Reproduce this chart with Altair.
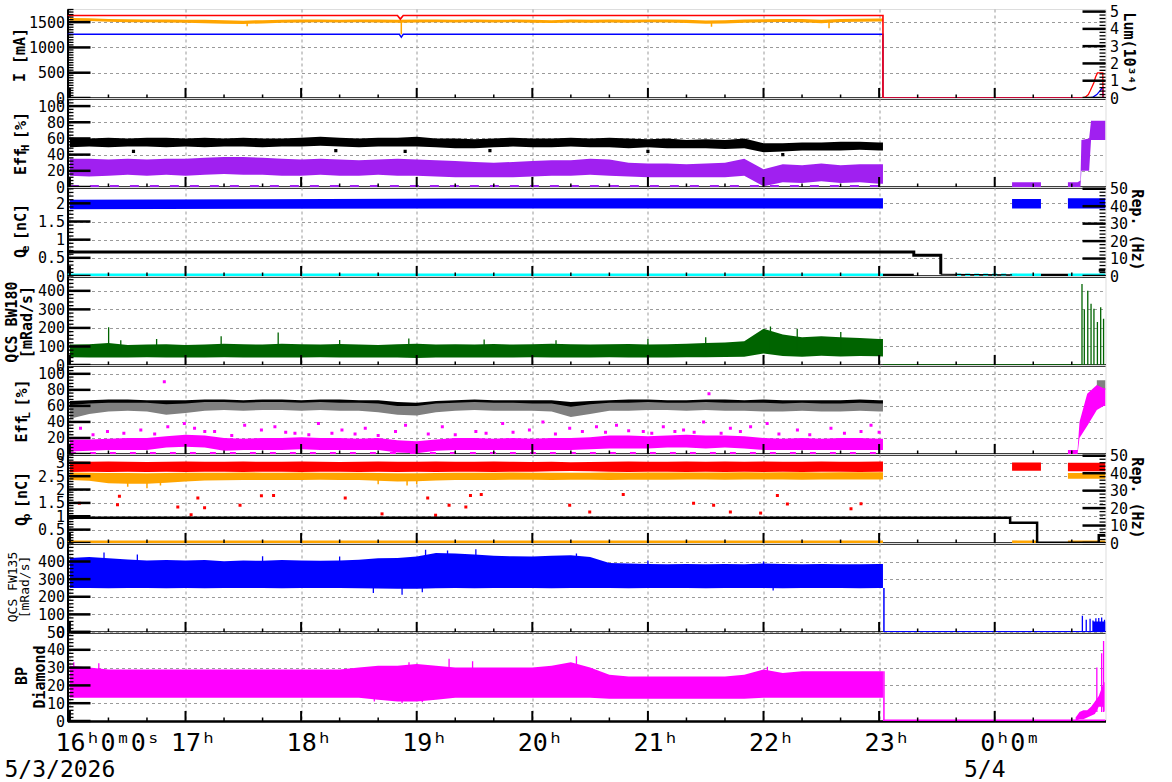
import json
import altair as alt
import pandas as pd

# ---------------- layout constants ----------------
W, H = 1038, 89
X_DOMAIN = [-1.25, 537.5]          # minutes after 16:00 on 5/3/2026
MONO = "DejaVu Sans Mono"
GRID = "#9a9a9a"
RED, ORANGE, BLUE, PURPLE = "#ff0000", "#ffa500", "#0000ff", "#a020f0"
BLACK, CYAN, GREEN, GRAY, MAGENTA = "#000000", "#00ffff", "#006400", "#808080", "#ff00ff"

# ---------------- x ticks / labels ----------------
HOURS = [0, 60, 120, 180, 240, 300, 360, 420, 480]
HOUR_LABELS = ["16ʰ0ᵐ0ˢ", "17ʰ", "18ʰ", "19ʰ", "20ʰ", "21ʰ", "22ʰ", "23ʰ", "0ʰ0ᵐ"]
MIN20 = [20, 40, 80, 100, 140, 160, 200, 220, 260, 280, 320, 340, 380, 400, 440, 460, 500, 520]
DATE_T = [0, 480]
DATE_LABELS = ["5/3/2026", "5/4"]

# ---------------- common time grid (minutes after 16:00) ----------------
T10 = [0, 10, 20, 30, 40, 50, 60, 70, 80, 90, 100,
       110, 120, 130, 140, 150, 160, 170, 180, 190, 200, 210,
       220, 230, 240, 250, 260, 270, 280, 290, 300, 310, 320,
       330, 340, 350, 360, 370, 380, 390, 400, 410, 420, 422]

# ---------------- panel 1 : I [mA] / Lum ----------------
I_RED_T = [-1.25, 170, 171.5, 173, 422, 422, 537.5]
I_RED_V = [1630, 1630, 1560, 1630, 1630, 0, 0]
I_BLUE_T = [-1.25, 171, 172, 173, 422, 422, 537.5]
I_BLUE_V = [1260, 1260, 1200, 1260, 1260, 0, 0]
I_OR_HI = [1580, 1575, 1560, 1555, 1550, 1550, 1545, 1545, 1540, 1530, 1540,
           1545, 1550, 1550, 1545, 1550, 1550, 1545, 1550, 1550, 1545, 1550,
           1545, 1550, 1545, 1540, 1550, 1545, 1550, 1545, 1550, 1550, 1545,
           1535, 1540, 1550, 1555, 1560, 1560, 1545, 1560, 1565, 1570, 1570]
I_OR_LO = [1530, 1525, 1510, 1500, 1500, 1495, 1490, 1480, 1470, 1465, 1475,
           1490, 1495, 1500, 1495, 1500, 1495, 1490, 1495, 1500, 1495, 1500,
           1495, 1500, 1490, 1485, 1495, 1490, 1495, 1490, 1500, 1495, 1485,
           1470, 1475, 1490, 1500, 1505, 1500, 1480, 1505, 1510, 1515, 1515]
I_OR_SPK_T = [92, 172, 333, 394]
I_OR_SPK_V = [1420, 1260, 1410, 1380]
LUM_RED_T = [525.4, 527, 528.6, 529.5, 530.7, 531.5, 532.3, 533.3, 536.1, 536.2, 537.5]
LUM_RED_V = [0, 0.05, 0.2, 0.4, 0.7, 0.9, 1.2, 1.45, 1.45, 0, 0]
LUM_BLUE_T = [529, 531, 533, 534.5, 535.5, 536.1, 536.2, 537.5]
LUM_BLUE_V = [0, 0.05, 0.2, 0.4, 0.55, 0.6, 0, 0]

# ---------------- panel 2 : Eff_H ----------------
EH_BLK_HI = [61, 60, 61, 60, 61, 61, 60, 61, 60, 61, 60,
             60, 61, 62, 61, 60, 61, 61, 62, 60, 60, 59,
             60, 61, 60, 60, 61, 60, 61, 60, 59, 60, 58,
             59, 58, 60, 54, 54, 55, 55, 56, 56, 55, 55]
EH_BLK_LO = [49, 50, 49, 50, 50, 49, 50, 49, 50, 50, 49,
             50, 50, 51, 50, 49, 50, 50, 50, 49, 48, 48,
             49, 50, 49, 49, 50, 49, 49, 48, 49, 48, 48,
             48, 47, 48, 43, 44, 45, 45, 45, 46, 45, 45]
EH_PUR_HI = [35, 35, 34, 35, 34, 35, 35, 36, 37, 37, 36,
             35, 34, 35, 34, 33, 34, 35, 34, 33, 32, 31,
             30, 31, 32, 33, 33, 35, 34, 30, 29, 29, 28,
             29, 30, 35, 22, 28, 27, 29, 27, 28, 28, 28]
EH_PUR_LO = [14, 13, 14, 15, 14, 15, 14, 15, 16, 15, 15,
             14, 14, 15, 14, 14, 15, 14, 14, 13, 12, 12,
             12, 12, 13, 14, 14, 15, 14, 13, 12, 12, 12,
             12, 12, 14, 1, 6, 5, 7, 5, 6, 4, 4]
EH_BLK_OUT_T = [33, 138, 174, 218, 300, 370]
EH_BLK_OUT_V = [44, 45, 44, 45, 44, 40]
EH_PUR_A_T, EH_PUR_A_LO, EH_PUR_A_HI = [489, 504], [0, 0], [6, 6]
EH_PUR_B_T = [518, 523, 524.5, 525, 529, 530, 537.5]
EH_PUR_B_LO = [0, 0, 0, 20, 20, 58, 58]
EH_PUR_B_HI = [6, 6, 8, 58, 60, 82, 82]

# ---------------- panel 3 : Q_e / Rep ----------------
QE_T = [0, 100, 200, 300, 422]
QE_LO = [1.84, 1.85, 1.86, 1.86, 1.86]
QE_HI = [2.10, 2.11, 2.13, 2.14, 2.14]
QE_POST_A_T, QE_POST_A_LO, QE_POST_A_HI = [489, 504], [1.86, 1.86], [2.12, 2.12]
QE_POST_B_T, QE_POST_B_LO, QE_POST_B_HI = [518, 537.5], [1.86, 1.86], [2.14, 2.14]
REPE_T = [-1.25, 438, 438, 452, 452]
REPE_V = [13.8, 13.8, 11.9, 11.9, 1.0]
REPE_THIN_T, REPE_THIN_V = [452, 489], [1.0, 0.6]
REPE_ZERO_A_T, REPE_ZERO_B_T, REPE_END_T = [422, 438], [504, 518], [534, 537.5]
REPE_ZERO_V, REPE_END_V = [0.3, 0.3], [3.3, 3.3]
CYAN_T, CYAN_V = [-1.25, 422], [0.03, 0.03]
CYAN_DOT_T = [460, 489]
CYAN_A_T, CYAN_B_T = [489, 504], [518, 537.5]

# ---------------- panel 4 : QCS BW180 ----------------
BW_HI = [110, 112, 118, 108, 110, 112, 108, 110, 115, 112, 110,
         115, 112, 110, 113, 110, 108, 112, 115, 110, 112, 110,
         113, 110, 112, 115, 112, 110, 112, 113, 110, 112, 115,
         118, 122, 128, 195, 165, 150, 155, 150, 145, 140, 140]
BW_LO = [42, 40, 41, 40, 42, 40, 41, 40, 42, 41, 40,
         41, 40, 42, 41, 40, 41, 40, 38, 40, 41, 40,
         41, 40, 42, 41, 40, 41, 42, 41, 40, 41, 42,
         42, 43, 45, 62, 48, 45, 50, 46, 48, 47, 46]
BW_SPK_T = [20.1, 26.4, 45, 78.5, 108.1, 140, 175.9, 215, 252.3, 300, 330, 363.6, 377.5, 400.1]
BW_SPK_V = [203, 134, 140, 155, 175, 135, 143, 138, 134, 140, 150, 208, 196, 178]
BW_POST_T = [525.3, 526.5, 528.3, 530, 531.5, 533.3, 535, 536.5]
BW_POST_V = [437, 300, 401, 330, 303, 232, 312, 250]
BW_ZERO_T, BW_ZERO_V = [422, 525], [1, 1]

# ---------------- panel 5 : Eff_L ----------------
EL_GRAY_HI = [61, 63, 64, 64, 64, 62, 63, 65, 65, 64, 65,
              65, 64, 65, 64, 64, 63, 60, 60, 63, 64, 65,
              64, 64, 63, 63, 59, 62, 64, 64, 65, 64, 64,
              65, 64, 64, 64, 63, 64, 63, 63, 64, 63, 63]
EL_GRAY_LO = [44, 50, 53, 54, 53, 49, 51, 54, 55, 54, 55,
              55, 54, 55, 54, 54, 52, 49, 48, 52, 54, 55,
              54, 54, 54, 53, 46, 50, 54, 54, 55, 55, 54,
              55, 54, 54, 53, 53, 54, 53, 53, 54, 53, 53]
EL_BLK_HI = [66, 67, 68, 68, 67, 67, 67, 68, 68, 67, 68,
             68, 67, 68, 68, 67, 67, 65, 64, 66, 67, 68,
             67, 67, 67, 67, 65, 66, 67, 68, 68, 67, 67,
             68, 68, 67, 68, 67, 67, 67, 67, 68, 67, 67]
EL_BLK_LO = [57, 58, 59, 59, 58, 58, 58, 59, 59, 58, 59,
             59, 58, 59, 59, 58, 58, 55, 54, 57, 58, 59,
             58, 58, 58, 58, 56, 57, 58, 59, 59, 58, 58,
             59, 59, 58, 59, 58, 58, 58, 58, 59, 58, 58]
EL_MAG_HI = [18, 18, 19, 20, 20, 22, 24, 23, 20, 19, 20,
             20, 21, 20, 20, 19, 20, 17, 16, 18, 20, 20,
             19, 20, 19, 20, 20, 21, 23, 23, 22, 23, 24,
             23, 23, 22, 20, 19, 20, 19, 20, 20, 19, 19]
EL_MAG_LO = [3, 4, 5, 5, 5, 8, 9, 8, 4, 5, 5,
             5, 6, 5, 5, 5, 5, 2, 1, 4, 5, 5,
             5, 5, 5, 5, 5, 6, 7, 7, 7, 8, 8,
             7, 8, 7, 5, 5, 5, 5, 5, 5, 5, 5]
EL_MAG_SC_T = [5.5, 19.5, 36.8, 49.0, 50.8, 59.4, 64.7, 75.1, 90.7, 99.4, 106.4, 116.8, 129.0,
               141.2, 153.3, 169.0, 174.2, 193.3, 210.7, 224.6, 238.5, 245.5, 259.4, 273.3,
               283.7, 297.6, 308.0, 318.5, 328.9, 331.7, 342.8, 353.3, 361.9, 377.6, 395.0,
               410.6, 415.8,
               12, 28, 44, 70, 84, 112, 124, 136, 148, 160, 186, 200, 216, 230, 252, 266,
               278, 290, 302, 314, 324, 338, 348, 368, 384, 402, 420]
EL_MAG_SC_V = [32, 28, 30, 90, 34, 38, 32, 28, 36, 30, 34, 26, 38,
               30, 32, 28, 36, 34, 28, 38, 30, 40, 32, 34,
               36, 28, 34, 30, 40, 75, 32, 34, 38, 30, 32,
               28, 36,
               24, 26, 25, 28, 23, 27, 24, 26, 25, 23, 25, 24, 26, 27, 25, 28,
               27, 29, 26, 28, 27, 26, 28, 25, 24, 26, 27]
EL_MAG_POST_T = [518, 523, 524, 528, 533, 536.5, 537.5]
EL_MAG_POST_LO = [0, 0, 20, 35, 55, 60, 60]
EL_MAG_POST_HI = [5, 5, 40, 75, 86, 82, 82]
EL_GRAY_POST_T, EL_GRAY_POST_LO, EL_GRAY_POST_HI = [533, 537.5], [80, 80], [92, 92]

# ---------------- panel 6 : Q_p / Rep ----------------
QP_RED_HI = [3.05, 3.04, 3.05, 3.04, 3.03, 3.04, 3.05, 3.04, 3.04, 3.05, 3.04,
             3.04, 3.05, 3.04, 3.03, 3.04, 3.05, 3.04, 3.04, 3.05, 3.04, 3.04,
             3.05, 3.04, 3.03, 3.04, 3.02, 3.03, 3.04, 3.05, 3.04, 3.04, 3.05,
             3.04, 3.05, 3.04, 3.05, 3.04, 3.04, 3.05, 3.04, 3.04, 3.05, 3.05]
QP_RED_LO = [2.66, 2.67, 2.66, 2.67, 2.66, 2.67, 2.66, 2.67, 2.67, 2.66, 2.67,
             2.67, 2.66, 2.67, 2.67, 2.66, 2.67, 2.66, 2.67, 2.66, 2.67, 2.67,
             2.66, 2.67, 2.67, 2.68, 2.69, 2.68, 2.67, 2.66, 2.67, 2.67, 2.66,
             2.67, 2.66, 2.67, 2.66, 2.67, 2.66, 2.67, 2.67, 2.66, 2.67, 2.67]
QP_OR_HI = [2.64, 2.63, 2.62, 2.62, 2.61, 2.62, 2.63, 2.63, 2.63, 2.64, 2.63,
            2.63, 2.64, 2.63, 2.63, 2.63, 2.62, 2.61, 2.61, 2.62, 2.63, 2.63,
            2.63, 2.64, 2.63, 2.63, 2.63, 2.63, 2.64, 2.63, 2.64, 2.64, 2.64,
            2.64, 2.64, 2.65, 2.64, 2.65, 2.65, 2.64, 2.65, 2.65, 2.65, 2.65]
QP_OR_LO = [2.36, 2.33, 2.24, 2.22, 2.22, 2.25, 2.30, 2.34, 2.35, 2.36, 2.36,
            2.36, 2.36, 2.37, 2.36, 2.36, 2.33, 2.30, 2.31, 2.34, 2.36, 2.36,
            2.36, 2.37, 2.37, 2.36, 2.37, 2.37, 2.36, 2.37, 2.37, 2.37, 2.38,
            2.38, 2.37, 2.38, 2.38, 2.38, 2.37, 2.38, 2.38, 2.38, 2.38, 2.38]
QP_OR_SPK_T = [30, 40, 47, 160, 175, 180]
QP_OR_SPK_V = [2.10, 2.05, 2.15, 2.20, 2.15, 2.20]
QP_SC_T = [4.9, 25.7, 24.7, 56.0, 66.4, 69.9, 88.3, 99.4, 105.7, 142.9,
           185.7, 196.8, 205.5, 207.9, 213.5, 259.4, 269.8, 287.2, 323.7, 334.1,
           367.2, 372.4, 405.4, 410.6, 342.8, 358.5, 62.9, 162.0, 189.8]
QP_SC_V = [1.49, 1.75, 1.43, 1.35, 1.68, 1.32, 1.41, 1.77, 1.78, 1.68,
           1.68, 1.41, 1.35, 1.78, 1.81, 1.41, 1.16, 1.81, 1.49, 1.41,
           1.78, 1.46, 1.28, 1.47, 1.16, 1.12, 1.06, 1.09, 1.04]
REPP_T = [-1.25, 488, 488, 502, 502, 534, 534, 537.5]
REPP_V = [14.4, 14.4, 11.6, 11.6, 0.2, 0.2, 4.5, 4.5]
QP_ZERO_T, QP_ZERO_V = [-1.25, 422], [0.04, 0.04]
QP_ZERO_A_T, QP_ZERO_B_T = [489, 502], [518, 537.5]
QP_RED_A_T, QP_RED_A_LO, QP_RED_A_HI = [489, 504], [2.70, 2.70], [3.01, 3.01]
QP_RED_B_T, QP_RED_B_LO, QP_RED_B_HI = [518, 537.5], [2.68, 2.68], [3.00, 3.00]
QP_OR_B_T, QP_OR_B_LO, QP_OR_B_HI = [518, 537.5], [2.40, 2.40], [2.62, 2.62]

# ---------------- panel 7 : QCS FW135 ----------------
FW_HI = [420, 425, 418, 412, 405, 408, 405, 408, 402, 405, 404,
         408, 406, 404, 406, 410, 418, 420, 428, 448, 445, 440,
         432, 430, 428, 432, 435, 425, 392, 388, 386, 385, 386,
         384, 386, 385, 388, 386, 384, 386, 385, 384, 386, 386]
FW_LO = [250, 249, 248, 249, 250, 248, 249, 248, 249, 250, 249,
         248, 249, 250, 249, 248, 247, 246, 245, 248, 249, 248,
         249, 250, 249, 248, 249, 250, 249, 248, 249, 250, 249,
         248, 249, 250, 249, 248, 249, 250, 249, 248, 249, 249]
FW_SPK_T = [17.7, 35, 100, 140, 184.6, 196, 210.7, 262.9, 300, 360, 157.5, 172.4, 182.9, 365]
FW_SPK_V = [451, 440, 430, 428, 466, 462, 470, 445, 405, 400, 221, 211, 226, 235]
FW_POST_T = [525.5, 527.5, 529.5, 531, 532.5, 534, 535.5, 537]
FW_POST_V = [92, 70, 75, 65, 78, 80, 82, 70]
FW_POST_A_T, FW_POST_A_LO, FW_POST_A_HI = [531, 537.5], [0, 0], [60, 60]
FW_ZERO_T, FW_ZERO_V = [422, 537.5], [1, 1]

# ---------------- panel 8 : BP Diamond ----------------
BP_HI = [31, 30, 29, 29, 29, 29, 29, 29, 29, 29, 29,
         29, 29, 29, 29, 30, 31, 31, 32, 31, 30, 30,
         30, 30, 30, 31, 33, 30, 26, 25, 25, 25, 25,
         25, 25, 26, 29, 27, 28, 28, 28, 28, 28, 28]
BP_LO = [13, 13, 13, 13, 13, 13, 13, 13, 13, 13, 13,
         13, 13, 13, 13, 13, 12, 11, 11, 12, 13, 13,
         13, 13, 13, 13, 13, 13, 12.5, 12.5, 12.5, 12.5, 12.5,
         12.5, 12.5, 12.5, 13, 13, 13, 13, 13, 13, 13, 13]
BP_SPK_T = [2, 15, 176, 196.8, 209, 262.9, 362, 158, 172.4, 182.9]
BP_SPK_V = [33, 32.5, 33, 35, 33.5, 36.4, 30.5, 11, 10, 10.5]
BP_END_T = [522, 524, 526, 528, 530, 532, 534, 536, 537]
BP_END_LO = [0, 1, 1, 2, 3, 4, 8, 8, 5]
BP_END_HI = [2, 5, 6, 6, 8, 11, 14, 20, 22]
BP_END_SPK_T, BP_END_SPK_V = [533, 535.5, 536.5], [30, 38, 45]
BP_ZERO_T, BP_ZERO_V = [422, 537.5], [0.3, 0.3]

# ---------------- domains / axis ticks ----------------
I_DOM, LUM_DOM, EFF_H_DOM, QE_DOM, REP_DOM = [0, 1760], [0, 5.15], [0, 110], [0, 2.45], [0, 51]
BW_DOM, EFF_L_DOM, QP_DOM, FW_DOM, BP_DOM = [0, 480], [0, 111], [0, 3.33], [0, 505], [0, 50]
I_TICKS, LUM_TICKS = [0, 500, 1000, 1500], [0, 1, 2, 3, 4, 5]
EFF_TICKS, QE_TICKS = [0, 20, 40, 60, 80, 100], [0, 0.5, 1, 1.5, 2]
BW_TICKS, FW_TICKS = [0, 100, 200, 300, 400], [0, 100, 200, 300, 400]
QP_TICKS, BP_TICKS = [0, 0.5, 1, 1.5, 2, 2.5, 3], [0, 10, 20, 30, 40, 50]
REP_TICKS = [0, 10, 20, 30, 40, 50]


def steps(stop, step, nd=3):
    n = int(round(stop / step))
    return [round(i * step, nd) for i in range(n + 1)]


XS = alt.Scale(domain=X_DOMAIN, nice=False, zero=False)
LABEL_EXPR = json.dumps(HOUR_LABELS, ensure_ascii=False) + "[round(datum.value / 60)]"
LAB = dict(labelFont=MONO, labelFontSize=15, labelColor=BLACK, labelFlush=False,
           labelOverlap=False, labelExpr="'' + datum.value", title=None, ticks=False)


def x_axis_spec(labels):
    return alt.Axis(orient="bottom", values=HOURS, grid=True, gridColor=GRID, gridDash=[3, 3],
                    gridWidth=1, domain=True, domainColor=BLACK, domainWidth=2.5, ticks=False,
                    labels=labels, labelExpr=LABEL_EXPR, labelFont=MONO, labelFontSize=25,
                    labelColor=BLACK, labelAlign="left", labelBaseline="top", labelOffset=-15,
                    labelPadding=9, labelFlush=False, labelOverlap=False, title=None, zindex=0)


def left_axis_spec(major):
    return alt.Axis(orient="left", values=major, grid=True, gridColor=GRID, gridDash=[3, 3],
                    gridWidth=1, domain=True, domainColor=BLACK, domainWidth=2,
                    labelPadding=3, zindex=0, **LAB)


def right_axis_spec(major):
    return alt.Axis(orient="right", values=major, grid=False, domain=False,
                    labelPadding=4, zindex=0, **LAB)


class Side:
    """one y scale of a panel (left or right), with its axis; all marks go through it"""

    def __init__(self, dom, yaxis, xaxis):
        self.dom, self.yaxis, self.xaxis = dom, yaxis, xaxis

    def X(self):
        return alt.X("t:Q", scale=XS, axis=self.xaxis)

    def Y(self, field):
        return alt.Y(f"{field}:Q", scale=alt.Scale(domain=self.dom, nice=False, zero=False),
                     axis=self.yaxis)

    def band(self, t, lo, hi, color):
        df = pd.DataFrame({"t": t, "lo": lo, "hi": hi})
        return alt.Chart(df).mark_area(color=color, orient="vertical", clip=True).encode(
            x=self.X(), y=self.Y("lo"), y2=alt.Y2("hi"))

    def line(self, t, v, color, width=1.5, dash=None):
        df = pd.DataFrame({"t": t, "v": v, "i": list(range(len(t)))})
        kw = dict(color=color, strokeWidth=width, clip=True)
        if dash:
            kw["strokeDash"] = dash
        return alt.Chart(df).mark_line(**kw).encode(x=self.X(), y=self.Y("v"), order="i:Q")

    def rules(self, t, v, base, color, width=1.2):
        df = pd.DataFrame({"t": t, "v": v, "b": [base] * len(t)})
        return alt.Chart(df).mark_rule(color=color, strokeWidth=width, clip=True).encode(
            x=self.X(), y=self.Y("v"), y2=alt.Y2("b"))

    def dots(self, t, v, color, size=8):
        df = pd.DataFrame({"t": t, "v": v})
        return alt.Chart(df).mark_square(color=color, size=size, opacity=1, clip=True).encode(
            x=self.X(), y=self.Y("v"))

    def yticks(self, vals, side, length, width):
        df = pd.DataFrame({"v": vals})
        x0, x1 = (0, length) if side == "left" else (W - length, W)
        return alt.Chart(df).mark_rule(color=BLACK, strokeWidth=width).encode(
            y=self.Y("v"), x=alt.value(x0), x2=alt.value(x1))

    def xticks(self, vals, length, width):
        df = pd.DataFrame({"t": vals})
        return alt.Chart(df).mark_rule(color=BLACK, strokeWidth=width).encode(
            x=self.X(), y=alt.value(H), y2=alt.value(H - length))

    def frame_ticks(self, major, minor, side="left"):
        out = [self.yticks(minor, side, 6, 1.3), self.yticks(major, side, 23, 2.5)]
        if side == "left":
            out += [self.xticks(MIN20, 3.5, 1.5), self.xticks(HOURS, 10, 2)]
        return out


def text(s, x, y, angle=270, size=15, bold=True, dx=0, dy=0):
    return alt.Chart(pd.DataFrame({"s": [s]})).mark_text(
        angle=angle, font=MONO, fontSize=size, fontWeight="bold" if bold else "normal",
        color=BLACK, align="center", baseline="middle", dx=dx, dy=dy
    ).encode(text="s:N", x=alt.value(x), y=alt.value(y))


def panel(left_layers, right_layers=None):
    left = alt.layer(*left_layers)
    if right_layers:
        right = alt.layer(*right_layers)
        return alt.layer(left, right).resolve_scale(y="independent").properties(width=W, height=H)
    return left.properties(width=W, height=H)


XA = x_axis_spec(False)
XA_LAST = x_axis_spec(True)

# ---------------- panel 1 ----------------
L = Side(I_DOM, left_axis_spec(I_TICKS), XA)
R = Side(LUM_DOM, right_axis_spec(LUM_TICKS), XA)
p1 = panel(
    [L.line(I_BLUE_T, I_BLUE_V, BLUE, 1.4),
     L.band(T10, I_OR_LO, I_OR_HI, ORANGE),
     L.rules(I_OR_SPK_T, I_OR_SPK_V, 1520, ORANGE, 1.5),
     L.line(I_RED_T, I_RED_V, RED, 1.6)]
    + L.frame_ticks(I_TICKS, steps(1750, 50))
    + [text("I [mA]", -48, 46), text("Lum(10³⁴)", W + 23, 44, angle=90)],
    [R.line(LUM_BLUE_T, LUM_BLUE_V, BLUE, 1.3),
     R.line(LUM_RED_T, LUM_RED_V, RED, 1.3)]
    + R.frame_ticks(LUM_TICKS, steps(5, 0.2), side="right"),
)

# ---------------- panel 2 ----------------
L = Side(EFF_H_DOM, left_axis_spec(EFF_TICKS), XA)
p2 = panel(
    [L.band(T10, EH_BLK_LO, EH_BLK_HI, BLACK),
     L.dots(EH_BLK_OUT_T, EH_BLK_OUT_V, BLACK, 10),
     L.band(T10, EH_PUR_LO, EH_PUR_HI, PURPLE),
     L.line([0, 422], [1.0, 1.0], PURPLE, 2.5, dash=[9, 11]),
     L.band(EH_PUR_A_T, EH_PUR_A_LO, EH_PUR_A_HI, PURPLE),
     L.band(EH_PUR_B_T, EH_PUR_B_LO, EH_PUR_B_HI, PURPLE)]
    + L.frame_ticks(EFF_TICKS, steps(108, 4))
    + [text("Eff  [%]", -46.5, 45.5), text("H", -46.5, 45.5, size=11, dx=-4.5, dy=5)],
)

# ---------------- panel 3 ----------------
L = Side(QE_DOM, left_axis_spec(QE_TICKS), XA)
R = Side(REP_DOM, right_axis_spec(REP_TICKS), XA)
p3 = panel(
    [L.band(QE_T, QE_LO, QE_HI, BLUE),
     L.band(QE_POST_A_T, QE_POST_A_LO, QE_POST_A_HI, BLUE),
     L.band(QE_POST_B_T, QE_POST_B_LO, QE_POST_B_HI, BLUE),
     L.line(CYAN_T, CYAN_V, CYAN, 3),
     L.line(CYAN_DOT_T, CYAN_V, CYAN, 3, dash=[5, 4]),
     L.line(CYAN_A_T, CYAN_V, CYAN, 3),
     L.line(CYAN_B_T, CYAN_V, CYAN, 3)]
    + L.frame_ticks(QE_TICKS, steps(2.4, 0.1))
    + [text("Q  [nC]", -47, 44), text("e", -47, 44, size=11, dx=-18, dy=5),
       text("Rep. (Hz)", W + 31, 43, angle=90)],
    [R.line(REPE_T, REPE_V, BLACK, 3),
     R.line(REPE_THIN_T, REPE_THIN_V, BLACK, 1.2),
     R.line(REPE_ZERO_A_T, REPE_ZERO_V, BLACK, 3.5),
     R.line(REPE_ZERO_B_T, REPE_ZERO_V, BLACK, 3.5),
     R.line(REPE_END_T, REPE_END_V, BLACK, 3)]
    + R.frame_ticks(REP_TICKS, steps(50, 2), side="right"),
)

# ---------------- panel 4 ----------------
L = Side(BW_DOM, left_axis_spec(BW_TICKS), XA)
p4 = panel(
    [L.band(T10, BW_LO, BW_HI, GREEN),
     L.rules(BW_SPK_T, BW_SPK_V, 60, GREEN, 1.3),
     L.line(BW_ZERO_T, BW_ZERO_V, GREEN, 1.2),
     L.rules(BW_POST_T, BW_POST_V, 0, GREEN, 1.3)]
    + L.frame_ticks(BW_TICKS, steps(480, 20))
    + [text("QCS BW180", -56, 46), text("[mRad/s]", -41, 46)],
)

# ---------------- panel 5 ----------------
L = Side(EFF_L_DOM, left_axis_spec(EFF_TICKS), XA)
p5 = panel(
    [L.band(T10, EL_BLK_LO, EL_BLK_HI, BLACK),
     L.band(T10, EL_GRAY_LO, EL_GRAY_HI, GRAY),
     L.band(T10, EL_MAG_LO, EL_MAG_HI, MAGENTA),
     L.dots(EL_MAG_SC_T, EL_MAG_SC_V, MAGENTA, 9),
     L.line([0, 422], [1.0, 1.0], MAGENTA, 2.5, dash=[6, 14]),
     L.band(EL_GRAY_POST_T, EL_GRAY_POST_LO, EL_GRAY_POST_HI, GRAY),
     L.band(EL_MAG_POST_T, EL_MAG_POST_LO, EL_MAG_POST_HI, MAGENTA)]
    + L.frame_ticks(EFF_TICKS, steps(108, 4))
    + [text("Eff  [%]", -46, 46), text("L", -46, 46, size=11, dx=-4.5, dy=5)],
)

# ---------------- panel 6 ----------------
L = Side(QP_DOM, left_axis_spec(QP_TICKS), XA)
R = Side(REP_DOM, right_axis_spec(REP_TICKS), XA)
p6 = panel(
    [L.band(T10, QP_OR_LO, QP_OR_HI, ORANGE),
     L.rules(QP_OR_SPK_T, QP_OR_SPK_V, 2.45, ORANGE, 1.5),
     L.band(T10, QP_RED_LO, QP_RED_HI, RED),
     L.dots(QP_SC_T, QP_SC_V, RED, 9),
     L.line(QP_ZERO_T, QP_ZERO_V, ORANGE, 3),
     L.line(QP_ZERO_A_T, QP_ZERO_V, ORANGE, 3),
     L.line(QP_ZERO_B_T, QP_ZERO_V, ORANGE, 3),
     L.band(QP_RED_A_T, QP_RED_A_LO, QP_RED_A_HI, RED),
     L.band(QP_OR_B_T, QP_OR_B_LO, QP_OR_B_HI, ORANGE),
     L.band(QP_RED_B_T, QP_RED_B_LO, QP_RED_B_HI, RED)]
    + L.frame_ticks(QP_TICKS, steps(3.3, 0.1))
    + [text("Q  [nC]", -46, 45), text("p", -46, 45, size=11, dx=-18, dy=5),
       text("Rep. (Hz)", W + 31, 44, angle=90)],
    [R.line(REPP_T, REPP_V, BLACK, 2.5)]
    + R.frame_ticks(REP_TICKS, steps(50, 2), side="right"),
)

# ---------------- panel 7 ----------------
L = Side(FW_DOM, left_axis_spec(FW_TICKS), XA)
p7 = panel(
    [L.band(T10, FW_LO, FW_HI, BLUE),
     L.rules(FW_SPK_T, FW_SPK_V, 330, BLUE, 1.3),
     L.rules([422.5], [250], 0, BLUE, 1.5),
     L.line(FW_ZERO_T, FW_ZERO_V, BLUE, 1.5),
     L.band(FW_POST_A_T, FW_POST_A_LO, FW_POST_A_HI, BLUE),
     L.rules(FW_POST_T, FW_POST_V, 0, BLUE, 1.3)]
    + L.frame_ticks(FW_TICKS, steps(500, 20))
    + [text("QCS FW135", -54.5, 44, size=13, bold=False),
       text("[mRad/s]", -43, 44, size=13, bold=False)],
)

# ---------------- panel 8 ----------------
L = Side(BP_DOM, left_axis_spec(BP_TICKS), XA_LAST)
p8 = panel(
    [L.band(T10, BP_LO, BP_HI, MAGENTA),
     L.rules(BP_SPK_T, BP_SPK_V, 20, MAGENTA, 1.3),
     L.rules([422.5], [28], 0, MAGENTA, 1.5),
     L.line(BP_ZERO_T, BP_ZERO_V, MAGENTA, 2),
     L.band(BP_END_T, BP_END_LO, BP_END_HI, MAGENTA),
     L.rules(BP_END_SPK_T, BP_END_SPK_V, 5, MAGENTA, 1.3)]
    + L.frame_ticks(BP_TICKS, steps(50, 2))
    + [text("BP", -45.5, 44), text("Diamond", -28, 45),
       alt.Chart(pd.DataFrame({"t": DATE_T, "s": DATE_LABELS})).mark_text(
           font=MONO, fontSize=23, color=BLACK, align="center", baseline="middle", dx=-10
       ).encode(x=L.X(), y=alt.value(H + 49), text="s:N")],
)

chart = (
    alt.vconcat(p1, p2, p3, p4, p5, p6, p7, p8, spacing=0, bounds="flush")
    .properties(padding={"left": 3.5, "top": 4, "right": 5, "bottom": 0}, background="white")
    .configure_view(stroke=BLACK, strokeWidth=1.5)
    .configure(font=MONO)
)

chart.save("out.html", embed_options={"renderer": "svg", "actions": False})
